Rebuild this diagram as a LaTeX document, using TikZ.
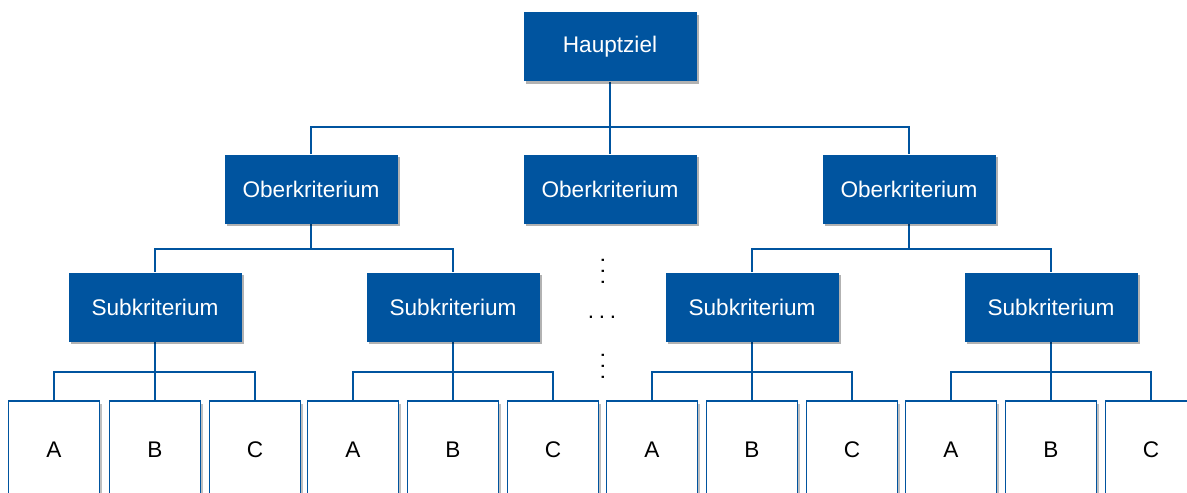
\documentclass[tikz,border=0pt]{standalone}
\usepackage{fontspec}
\setmainfont{Liberation Sans}
\usetikzlibrary{shadows,backgrounds}

\definecolor{kblue}{RGB}{0,84,159}

\tikzset{
  blockbox/.style={shape=rectangle,fill=kblue,text=white,minimum width=86.5pt,minimum height=34.5pt,
    font=\fontsize{11.3}{13}\selectfont,
    drop shadow={shadow xshift=1.3pt,shadow yshift=-1.3pt,fill=black,opacity=0.3}},
  leafbox/.style={shape=rectangle,draw=kblue,line width=0.8pt,fill=white,minimum width=45.5pt,minimum height=49pt,
    font=\fontsize{11.3}{13}\selectfont,
    drop shadow={shadow xshift=1.3pt,shadow yshift=-1.3pt,fill=black,opacity=0.25}},
  link/.style={draw=kblue,line width=0.8pt},
  dotnode/.style={font=\fontsize{11.3}{13}\selectfont,inner sep=0pt}
}

\begin{document}
\begin{tikzpicture}[x=0.5pt,y=-0.5pt]
\clip (0,0) rectangle (1187,492);
\useasboundingbox (0,0) rectangle (1187,492);

% Hauptziel und Oberkriterien
\node[blockbox] (haupt) at (610,47) {Hauptziel};
\node[blockbox] (ober1) at (311,189) {Oberkriterium};
\node[blockbox] (ober2) at (610,189) {Oberkriterium};
\node[blockbox] (ober3) at (909,189) {Oberkriterium};

% Subkriterien
\node[blockbox] (sub1) at (155,307) {Subkriterium};
\node[blockbox] (sub2) at (453,307) {Subkriterium};
\node[blockbox] (sub3) at (752,307) {Subkriterium};
\node[blockbox] (sub4) at (1051,307) {Subkriterium};

% Blaetter
\node[leafbox] (a1) at (54,450) {A};
\node[leafbox] (b1) at (155,450) {B};
\node[leafbox] (c1) at (255,450) {C};
\node[leafbox] (a2) at (353,450) {A};
\node[leafbox] (b2) at (453,450) {B};
\node[leafbox] (c2) at (553,450) {C};
\node[leafbox] (a3) at (652,450) {A};
\node[leafbox] (b3) at (752,450) {B};
\node[leafbox] (c3) at (852,450) {C};
\node[leafbox] (a4) at (951,450) {A};
\node[leafbox] (b4) at (1051,450) {B};
\node[leafbox] (c4) at (1151,450) {C};

% Punkte
\node[dotnode,rotate=90] (vdots1) at (603,271) {.\hspace{2.4pt}.\hspace{2.4pt}.};
\node[dotnode] (hdots) at (602,317) {.\hspace{2.4pt}.\hspace{2.4pt}.};
\node[dotnode,rotate=90] (vdots2) at (603,366) {.\hspace{2.4pt}.\hspace{2.4pt}.};

\begin{scope}[on background layer]
\coordinate (j0) at (610,127);
\draw[link] (haupt.south) -- (j0);
\draw[link] (ober1.north) |- (j0) -| (ober3.north);
\draw[link] (j0) -- (ober2.north);

\coordinate (j1) at (311,249);
\draw[link] (ober1.south) -- (j1);
\draw[link] (sub1.north) |- (j1) -| (sub2.north);
\coordinate (j3) at (909,249);
\draw[link] (ober3.south) -- (j3);
\draw[link] (sub3.north) |- (j3) -| (sub4.north);

\coordinate (k1) at (155,372);
\draw[link] (sub1.south) -- (b1.north);
\draw[link] (a1.north) |- (k1) -| (c1.north);
\coordinate (k2) at (453,372);
\draw[link] (sub2.south) -- (b2.north);
\draw[link] (a2.north) |- (k2) -| (c2.north);
\coordinate (k3) at (752,372);
\draw[link] (sub3.south) -- (b3.north);
\draw[link] (a3.north) |- (k3) -| (c3.north);
\coordinate (k4) at (1051,372);
\draw[link] (sub4.south) -- (b4.north);
\draw[link] (a4.north) |- (k4) -| (c4.north);
\end{scope}
\end{tikzpicture}
\end{document}
